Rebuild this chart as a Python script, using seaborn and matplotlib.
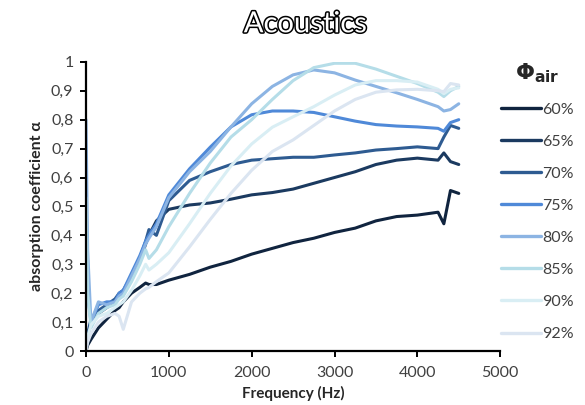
import matplotlib
matplotlib.use("Agg")
import matplotlib.pyplot as plt
import matplotlib.patheffects as pe
from matplotlib.lines import Line2D
import seaborn as sns
import pandas as pd

freq = [0, 20, 60, 150, 250, 350, 400, 450, 550, 650, 720, 760, 850, 1000, 1250,
        1500, 1750, 2000, 2250, 2500, 2750, 3000, 3250, 3500, 3750, 4000, 4250, 4320, 4400, 4500]

a60 = [0.0, 0.02, 0.04, 0.08, 0.11, 0.14, 0.15, 0.17, 0.2, 0.22, 0.235, 0.23, 0.23, 0.245, 0.265,
       0.29, 0.31, 0.335, 0.355, 0.375, 0.39, 0.41, 0.425, 0.45, 0.465, 0.47, 0.48, 0.44, 0.555, 0.545]
a65 = [0.0, 0.05, 0.1, 0.13, 0.15, 0.17, 0.19, 0.2, 0.25, 0.31, 0.37, 0.4, 0.45, 0.49, 0.505,
       0.512, 0.525, 0.54, 0.548, 0.56, 0.58, 0.6, 0.62, 0.645, 0.66, 0.667, 0.66, 0.685, 0.655, 0.645]
a70 = [0.0, 0.06, 0.11, 0.14, 0.16, 0.18, 0.2, 0.21, 0.26, 0.32, 0.38, 0.42, 0.4, 0.52, 0.59,
       0.62, 0.645, 0.66, 0.665, 0.67, 0.67, 0.678, 0.685, 0.695, 0.7, 0.706, 0.70, 0.74, 0.78, 0.77]
a75 = [0.3, 0.2, 0.1, 0.16, 0.17, 0.17, 0.2, 0.21, 0.27, 0.33, 0.38, 0.4, 0.44, 0.54, 0.63,
       0.705, 0.775, 0.817, 0.83, 0.83, 0.825, 0.81, 0.795, 0.783, 0.778, 0.775, 0.77, 0.76, 0.79, 0.80]
a80 = [0.8, 0.35, 0.1, 0.17, 0.16, 0.17, 0.19, 0.2, 0.26, 0.32, 0.37, 0.39, 0.43, 0.53, 0.62,
       0.69, 0.775, 0.855, 0.915, 0.955, 0.972, 0.962, 0.937, 0.915, 0.893, 0.87, 0.845, 0.83, 0.835, 0.855]
a85 = [0.53, 0.2, 0.08, 0.13, 0.15, 0.16, 0.18, 0.19, 0.24, 0.3, 0.35, 0.32, 0.35, 0.43, 0.545,
       0.65, 0.74, 0.80, 0.87, 0.935, 0.98, 0.995, 0.995, 0.975, 0.95, 0.925, 0.895, 0.88, 0.9, 0.915]
a90 = [0.0, 0.05, 0.09, 0.12, 0.13, 0.15, 0.16, 0.17, 0.21, 0.26, 0.3, 0.28, 0.3, 0.34, 0.44,
       0.545, 0.64, 0.716, 0.774, 0.81, 0.845, 0.885, 0.92, 0.935, 0.935, 0.93, 0.905, 0.89, 0.905, 0.91]
a92 = [0.0, 0.03, 0.06, 0.1, 0.12, 0.13, 0.12, 0.075, 0.17, 0.2, 0.215, 0.22, 0.24, 0.27, 0.36,
       0.455, 0.545, 0.625, 0.69, 0.73, 0.78, 0.83, 0.87, 0.895, 0.903, 0.905, 0.9, 0.897, 0.925, 0.92]

labels = ["60%", "65%", "70%", "75%", "80%", "85%", "90%", "92%"]
series = [a60, a65, a70, a75, a80, a85, a90, a92]
colors = ["#10243f", "#1b3a60", "#2e5b91", "#4f89d8", "#8cb4e3", "#b5dde8", "#d9eef4", "#dbe5f1"]

xticks = [0, 1000, 2000, 3000, 4000, 5000]
yticks = [0, 0.1, 0.2, 0.3, 0.4, 0.5, 0.6, 0.7, 0.8, 0.9, 1.0]
ytick_labels = ["0", "0,1", "0,2", "0,3", "0,4", "0,5", "0,6", "0,7", "0,8", "0,9", "1"]

rows = []
for lab, vals in zip(labels, series):
    for f, v in zip(freq, vals):
        rows.append({"Frequency": f, "alpha": v, "phi": lab})
df = pd.DataFrame(rows)

sns.set_theme(style="white")
plt.rcParams["font.family"] = ["Lato", "DejaVu Sans"]
plt.rcParams["mathtext.fontset"] = "dejavusans"

fig = plt.figure(figsize=(5.85, 4.05), dpi=100)
ax = fig.add_axes([0.147, 0.1333, 0.708, 0.714])

sns.lineplot(data=df, x="Frequency", y="alpha", hue="phi", hue_order=labels,
             palette=dict(zip(labels, colors)), linewidth=2.2, legend=False, ax=ax,
             estimator=None, sort=False)

ax.set_xlim(0, 5000)
ax.set_ylim(0, 1)
ax.set_xticks(xticks)
ax.set_xticklabels([str(t) for t in xticks], fontsize=11.5, color="#404040")
ax.set_yticks(yticks)
ax.set_yticklabels(ytick_labels, fontsize=11.5, color="#404040")
for s in ["top", "right"]:
    ax.spines[s].set_visible(False)
for s in ["left", "bottom"]:
    ax.spines[s].set_color("black")
    ax.spines[s].set_linewidth(1.6)
ax.tick_params(axis="x", direction="out", length=4, width=1.4, color="black",
               bottom=True, pad=7)
ax.tick_params(axis="y", direction="out", length=4, width=1.4, color="black",
               left=True, pad=5)
ax.set_xlabel("Frequency (Hz)", fontsize=11, fontweight="bold", labelpad=4)
ax.set_ylabel("absorption coefficient α", fontsize=11.5, fontweight="bold", labelpad=5)

fig.text(0.522, 0.94, "Acoustics", ha="center", va="center", fontsize=21,
         color="white", path_effects=[pe.withStroke(linewidth=2.2, foreground="black")])

handles = [Line2D([0], [0], color=c, lw=2.4) for c in colors]
leg = fig.legend(handles, labels, loc="upper left", bbox_to_anchor=(0.832, 0.885),
                 bbox_transform=fig.transFigure, frameon=False, fontsize=11.5,
                 handlelength=2.5, handletextpad=0.1, labelspacing=1.12,
                 title=r"$\mathbf{\Phi}_{\mathbf{air}}$", title_fontsize=16)
for t in leg.get_texts():
    t.set_color("#404040")

fig.savefig("out.png", dpi=100)
